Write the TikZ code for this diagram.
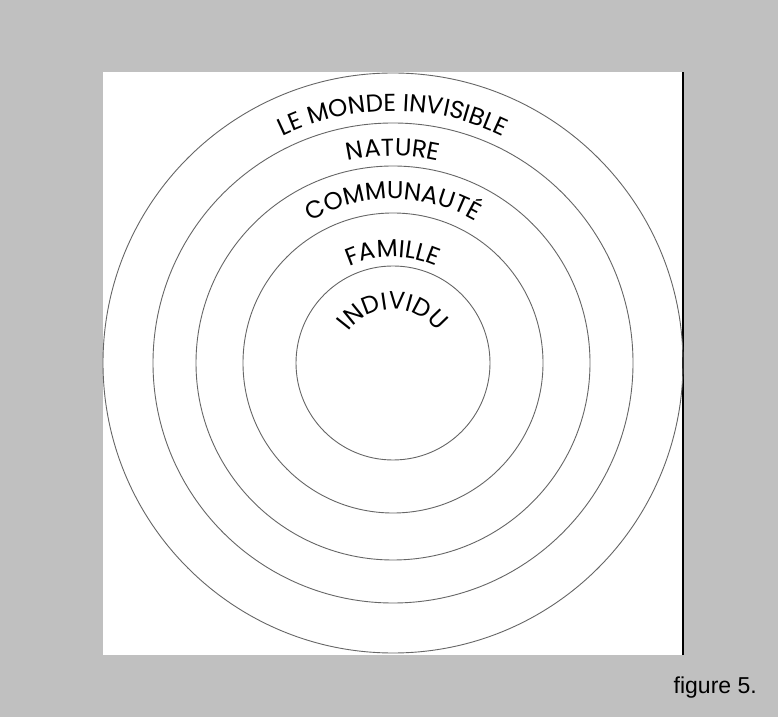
\documentclass[tikz,border=0pt]{standalone}
\usepackage{fontspec}
\setmainfont{Liberation Sans}
\newfontfamily\ringfont{Poppins}
\usetikzlibrary{decorations.text}
\definecolor{pagegray}{RGB}{192,192,192}

\begin{document}
\begin{tikzpicture}[
    x=1pt, y=1pt,
    % Styles
    ring/.style={
        draw=black!60,
        line width=0.9pt
    },
    ringlabel/.style={
        decorate,
        decoration={
            text along path,
            text align=center,
            text={|\ringfont\fontsize{24.5}{24.5}\selectfont|#1}
        }
    },
    caption/.style={
        font=\fontsize{23}{23}\selectfont,
        anchor=base east,
        inner sep=0pt
    }
]

\useasboundingbox (0,0) rectangle (778,717);

% Page and sheet
\fill[pagegray] (0,0) rectangle (778,717);
\fill[white] (103,62) rectangle (683,645);
\draw[line width=1.5pt] (683,62) -- (683,645);

% Concentric circles
\coordinate (c) at (393,354);
\draw[ring] (c) circle[radius=290];
\draw[ring] (c) circle[radius=240];
\draw[ring] (c) circle[radius=197];
\draw[ring] (c) circle[radius=150];
\draw[ring] (c) circle[radius=97];

% Labels along the rings
\path[ringlabel={LE MONDE INVISIBLE}] (c) ++(165:252) arc[start angle=165, end angle=15, radius=252];
\path[ringlabel={NATURE}] (c) ++(165:207) arc[start angle=165, end angle=15, radius=207];
\path[ringlabel={COMMUNAUTÉ}] (c) ++(165:164) arc[start angle=165, end angle=15, radius=164];
\path[ringlabel={FAMILLE}] (c) ++(170:106) arc[start angle=170, end angle=10, radius=106];
\path[ringlabel={INDIVIDU}] (c) ++(178:54) arc[start angle=178, end angle=2, radius=54];

% Caption
\node[caption] (fig) at (757,24) {figure 5.};

\end{tikzpicture}
\end{document}
